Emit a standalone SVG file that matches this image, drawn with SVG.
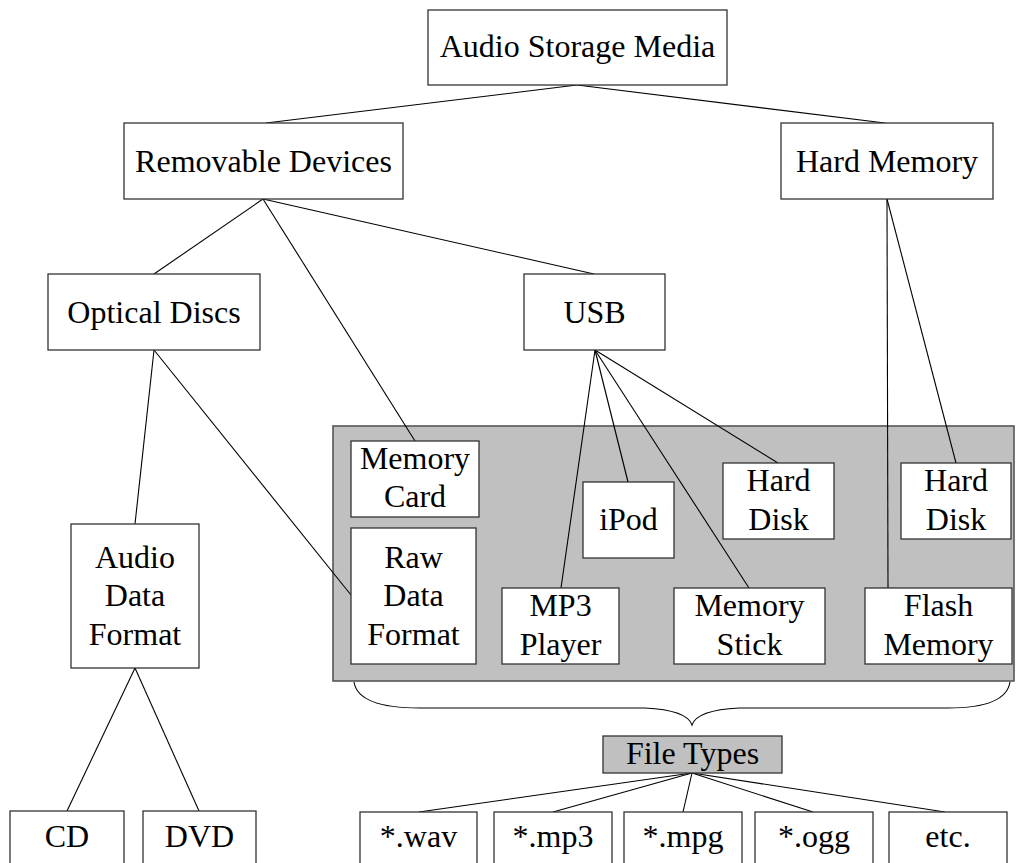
<svg xmlns="http://www.w3.org/2000/svg" width="1016" height="863" viewBox="0 0 1016 863">
  <style>
    .box { fill: #ffffff; stroke: #333333; stroke-width: 1.3; }
    .grey { fill: #c0c0c0; stroke: #333333; stroke-width: 1.3; }
    .panel { fill: #c0c0c0; stroke: #555555; stroke-width: 1.6; }
    .link { fill: none; stroke: #000000; stroke-width: 1.1; }
    text { font-family: "Liberation Serif", "Times New Roman", serif; font-size: 32px; fill: #000000; text-anchor: middle; }
  </style>

  <rect width="1016" height="863" fill="#ffffff"/>

  <!-- shaded area grouping the storage devices -->
  <rect id="device-panel" class="panel" x="333" y="426" width="681" height="255"/>

  <!-- connectors -->
  <g id="connectors">
    <line class="link" x1="577" y1="85" x2="266" y2="123"/>
    <line class="link" x1="577" y1="85" x2="885" y2="123"/>
    <line class="link" x1="263" y1="199" x2="154" y2="274"/>
    <line class="link" x1="263" y1="199" x2="415" y2="441"/>
    <line class="link" x1="263" y1="199" x2="594" y2="274"/>
    <line class="link" x1="154" y1="350" x2="135" y2="524"/>
    <line class="link" x1="154" y1="350" x2="351" y2="595"/>
    <line class="link" x1="595" y1="350" x2="561" y2="588"/>
    <line class="link" x1="595" y1="350" x2="628" y2="482"/>
    <line class="link" x1="595" y1="350" x2="749" y2="588"/>
    <line class="link" x1="595" y1="350" x2="778" y2="463"/>
    <line class="link" x1="887" y1="199" x2="888" y2="588"/>
    <line class="link" x1="887" y1="199" x2="956" y2="463"/>
    <line class="link" x1="135" y1="668" x2="67" y2="811"/>
    <line class="link" x1="135" y1="668" x2="199" y2="811"/>
    <line class="link" x1="692" y1="773" x2="419" y2="812"/>
    <line class="link" x1="692" y1="773" x2="553" y2="812"/>
    <line class="link" x1="692" y1="773" x2="683" y2="812"/>
    <line class="link" x1="692" y1="773" x2="813" y2="812"/>
    <line class="link" x1="692" y1="773" x2="945" y2="812"/>
    <!-- brace under the device panel -->
    <path class="link" d="M354,682 Q358,708 420,708 L645,708 Q687,710 692,725 Q697,710 739,708 L948,708 Q1006,708 1010,682"/>
  </g>

  <g id="audio-storage-media">
    <rect class="box" x="428" y="10" width="299" height="75"/>
    <text x="577.5" y="57">Audio Storage Media</text>
  </g>

  <g id="removable-devices">
    <rect class="box" x="124" y="123" width="279" height="76"/>
    <text x="263.5" y="171.5">Removable Devices</text>
  </g>

  <g id="hard-memory">
    <rect class="box" x="781" y="123" width="212" height="76"/>
    <text x="887" y="171.5">Hard Memory</text>
  </g>

  <g id="optical-discs">
    <rect class="box" x="48" y="274" width="212" height="76"/>
    <text x="154" y="322.5">Optical Discs</text>
  </g>

  <g id="usb">
    <rect class="box" x="524" y="274" width="141" height="76"/>
    <text x="594.5" y="322.5">USB</text>
  </g>

  <g id="audio-data-format">
    <rect class="box" x="71" y="524" width="128" height="144"/>
    <text x="135" y="567.5">Audio</text>
    <text x="135" y="606">Data</text>
    <text x="135" y="644.5">Format</text>
  </g>

  <g id="memory-card">
    <rect class="box" x="351" y="441" width="128" height="76"/>
    <text x="415" y="468.5">Memory</text>
    <text x="415" y="507">Card</text>
  </g>

  <g id="raw-data-format">
    <rect class="box" x="351" y="528" width="125" height="136"/>
    <text x="413.5" y="567.5">Raw</text>
    <text x="413.5" y="606">Data</text>
    <text x="413.5" y="644.5">Format</text>
  </g>

  <g id="ipod">
    <rect class="box" x="583" y="482" width="91" height="76"/>
    <text x="628.5" y="530">iPod</text>
  </g>

  <g id="mp3-player">
    <rect class="box" x="502" y="588" width="117" height="76"/>
    <text x="560.5" y="616">MP3</text>
    <text x="560.5" y="654.5">Player</text>
  </g>

  <g id="usb-hard-disk">
    <rect class="box" x="723" y="463" width="111" height="76"/>
    <text x="778.5" y="491">Hard</text>
    <text x="778.5" y="529.5">Disk</text>
  </g>

  <g id="memory-stick">
    <rect class="box" x="674" y="588" width="151" height="76"/>
    <text x="749.5" y="616">Memory</text>
    <text x="749.5" y="654.5">Stick</text>
  </g>

  <g id="internal-hard-disk">
    <rect class="box" x="901" y="463" width="110" height="76"/>
    <text x="956" y="491">Hard</text>
    <text x="956" y="529.5">Disk</text>
  </g>

  <g id="flash-memory">
    <rect class="box" x="865" y="588" width="147" height="76"/>
    <text x="938.5" y="616">Flash</text>
    <text x="938.5" y="654.5">Memory</text>
  </g>

  <g id="file-types">
    <rect class="grey" x="603" y="736" width="179" height="37"/>
    <text x="692.5" y="764">File Types</text>
  </g>

  <g id="cd">
    <rect class="box" x="10" y="811" width="114" height="80"/>
    <text x="67" y="847">CD</text>
  </g>

  <g id="dvd">
    <rect class="box" x="143" y="811" width="113" height="80"/>
    <text x="199.5" y="847">DVD</text>
  </g>

  <g id="wav">
    <rect class="box" x="360" y="812" width="117" height="80"/>
    <text x="418.5" y="847">*.wav</text>
  </g>

  <g id="mp3">
    <rect class="box" x="494" y="812" width="118" height="80"/>
    <text x="553" y="847">*.mp3</text>
  </g>

  <g id="mpg">
    <rect class="box" x="624" y="812" width="118" height="80"/>
    <text x="683" y="847">*.mpg</text>
  </g>

  <g id="ogg">
    <rect class="box" x="755" y="812" width="118" height="80"/>
    <text x="814" y="847">*.ogg</text>
  </g>

  <g id="etc">
    <rect class="box" x="889" y="812" width="118" height="80"/>
    <text x="948" y="847">etc.</text>
  </g>
</svg>
